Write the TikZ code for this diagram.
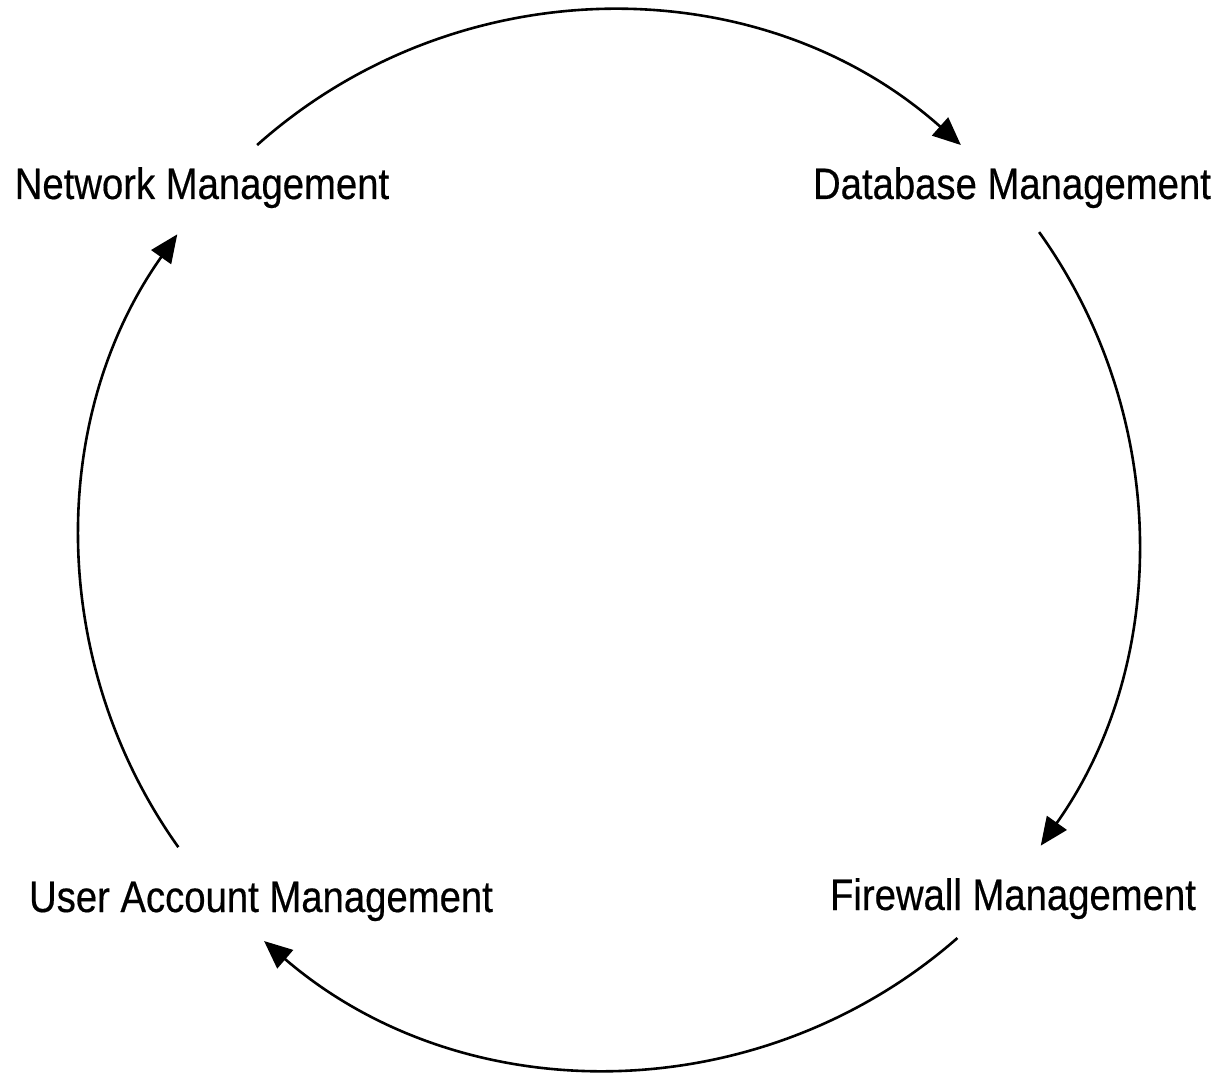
\documentclass[tikz,border=0pt]{standalone}
\usepackage{fontspec}
\setmainfont{Liberation Sans}[FakeStretch=0.87,FakeBold=0.4]
\usetikzlibrary{arrows.meta}
\begin{document}
\begin{tikzpicture}[x=1pt,y=1pt,
  lbl/.style={font=\fontsize{44}{50}\selectfont, anchor=base, inner sep=0pt},
  cyc/.style={line width=2.6pt, -{Triangle[length=28pt,width=24pt]}}]
\useasboundingbox (0,0) rectangle (1224,1072);
\coordinate (c) at (609,532);
\node[lbl] (net) at (202,873) {Network Management};
\node[lbl] (db)  at (1012,873) {Database Management};
\node[lbl] (fw)  at (1013,162) {Firewall Management};
\node[lbl] (ua)  at (261,160) {User Account Management};
% arc start points on the circle
\path (c) ++(131.7:529) coordinate (netS);
\path (c) ++(35.6:529) coordinate (dbS);
\path (c) ++(-48.8:529) coordinate (fwS);
\path (c) ++(215.5:529) coordinate (uaS);
\draw[cyc] (netS) arc[start angle=131.7, end angle=48.3, radius=529];
\draw[cyc] (dbS) arc[start angle=35.6, end angle=-35.3, radius=529];
\draw[cyc] (fwS) arc[start angle=-48.8, end angle=-130.7, radius=529];
\draw[cyc] (uaS) arc[start angle=215.5, end angle=144.7, radius=529];
\end{tikzpicture}
\end{document}
